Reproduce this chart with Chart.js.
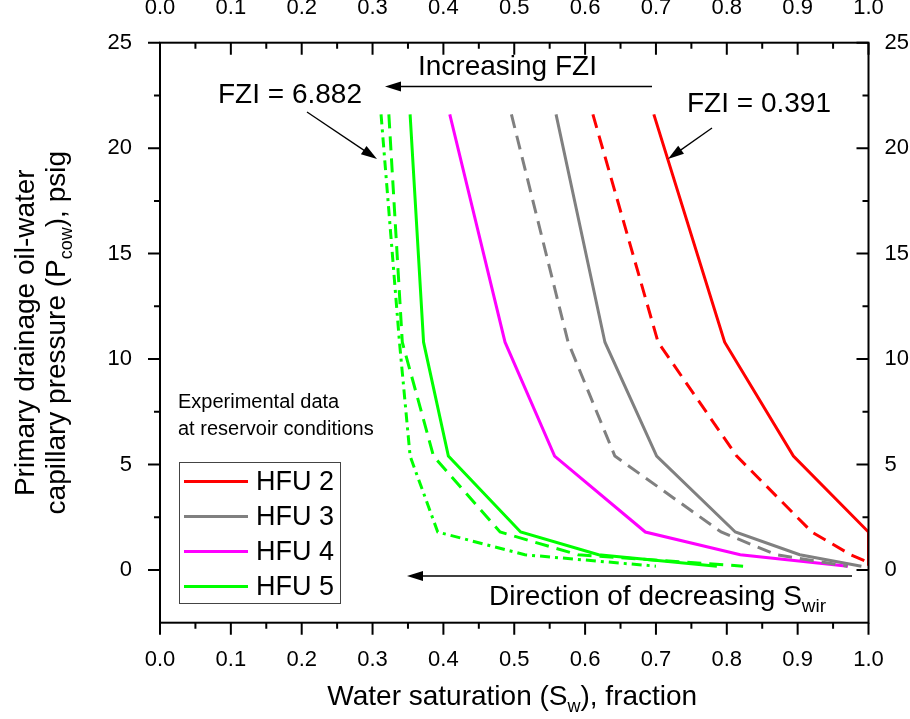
<!DOCTYPE html>
<html>
<head>
<meta charset="utf-8">
<script src="https://cdn.jsdelivr.net/npm/chart.js@4.4.1/dist/chart.umd.min.js"></script>
<style>
  html, body { margin: 0; padding: 0; background: #fff; }
  #wrap { width: 910px; height: 719px; }
</style>
</head>
<body>
<div id="wrap"><canvas id="pcChart" width="910" height="719"></canvas></div>
<script>
// tick values
const xTickValues = [0, 0.1, 0.2, 0.3, 0.4, 0.5, 0.6, 0.7, 0.8, 0.9, 1.0];
const yTickValues = [0, 5, 10, 15, 20, 25];

// Pc levels (psig) at which Sw was read
const pcLevels = [21.6, 10.8, 5.4, 1.8, 0.72, 0.18];
const pcHfu2 = [21.6, 10.8, 5.4, 1.8, 0.2];
const pcHfu2Dash = [21.6, 10.8, 5.4, 1.8, 0.72, 0.36];

// water saturation per curve
const swHfu2 = [0.697, 0.797, 0.894, 1.0, 1.0];
const swHfu2Dash = [0.611, 0.703, 0.814, 0.92, 0.975, 1.0];
const swHfu3 = [0.559, 0.628, 0.701, 0.812, 0.903, 0.99];
const swHfu3Dash = [0.496, 0.576, 0.642, 0.792, 0.87, 0.97];
const swHfu4 = [0.409, 0.487, 0.557, 0.685, 0.819, 0.971];
const swHfu5 = [0.353, 0.372, 0.407, 0.509, 0.619, 0.786];
const swHfu5Dash = [0.323, 0.342, 0.386, 0.48, 0.59, 0.823];
const swHfu5DashDot = [0.312, 0.338, 0.353, 0.392, 0.515, 0.70];

const legendNames = ['HFU 2', 'HFU 3', 'HFU 4', 'HFU 5'];
const legendColors = ['#ff0000', '#808080', '#ff00ff', '#00ff00'];

const FONT = '"Liberation Sans", Arial, sans-serif';

function pts(sw, pc) {
    return sw.map((v, i) => ({ x: v, y: pc[i] }));
}

function curve(sw, pc, color, dash) {
    return {
        data: pts(sw, pc),
        borderColor: color,
        borderWidth: 3,
        borderDash: dash || [],
        showLine: true,
        pointRadius: 0,
        fill: false,
        tension: 0
    };
}

const datasets = [
    curve(swHfu2, pcHfu2, legendColors[0]),
    curve(swHfu2Dash, pcHfu2Dash, legendColors[0], [14, 8]),
    curve(swHfu3, pcLevels, legendColors[1]),
    curve(swHfu3Dash, pcLevels, legendColors[1], [14, 8]),
    curve(swHfu4, pcLevels, legendColors[2]),
    curve(swHfu5, pcLevels, legendColors[3]),
    curve(swHfu5Dash, pcLevels, legendColors[3], [14, 8]),
    curve(swHfu5DashDot, pcLevels, legendColors[3], [10, 5, 3, 5])
];

function arrow(ctx, x1, y1, x2, y2) {
    const a = Math.atan2(y2 - y1, x2 - x1);
    const len = 16, hw = 5;
    ctx.save();
    ctx.strokeStyle = '#000';
    ctx.fillStyle = '#000';
    ctx.lineWidth = 1.3;
    ctx.beginPath();
    ctx.moveTo(x1, y1);
    ctx.lineTo(x2 - Math.cos(a) * len * 0.8, y2 - Math.sin(a) * len * 0.8);
    ctx.stroke();
    ctx.beginPath();
    ctx.moveTo(x2, y2);
    ctx.lineTo(x2 - Math.cos(a) * len - Math.sin(a) * hw, y2 - Math.sin(a) * len + Math.cos(a) * hw);
    ctx.lineTo(x2 - Math.cos(a) * len + Math.sin(a) * hw, y2 - Math.sin(a) * len - Math.cos(a) * hw);
    ctx.closePath();
    ctx.fill();
    ctx.restore();
}

// text with one subscript part: [main, sub, rest]
function subText(ctx, parts, x, y, size, subSize, align) {
    ctx.font = size + 'px ' + FONT;
    const w1 = ctx.measureText(parts[0]).width;
    const w3 = ctx.measureText(parts[2]).width;
    ctx.font = subSize + 'px ' + FONT;
    const w2 = ctx.measureText(parts[1]).width;
    const total = w1 + w2 + w3;
    let sx = x;
    if (align === 'center') sx = x - total / 2;
    ctx.textAlign = 'left';
    ctx.textBaseline = 'alphabetic';
    ctx.font = size + 'px ' + FONT;
    ctx.fillText(parts[0], sx, y);
    ctx.font = subSize + 'px ' + FONT;
    ctx.fillText(parts[1], sx + w1, y + size * 0.25);
    ctx.font = size + 'px ' + FONT;
    ctx.fillText(parts[2], sx + w1 + w2, y);
}

const decorPlugin = {
    id: 'decor',
    afterDraw(chart) {
        const ctx = chart.ctx;
        const a = chart.chartArea;
        const xs = chart.scales.x, ys = chart.scales.y;
        ctx.save();

        // frame
        ctx.strokeStyle = '#000';
        ctx.lineWidth = 2;
        ctx.strokeRect(a.left, a.top, a.right - a.left, a.bottom - a.top);

        // ticks: bottom/left outward, top/right inward
        ctx.beginPath();
        for (let i = 0; i <= 20; i++) {
            const v = i * 0.05;
            const px = xs.getPixelForValue(v);
            const L = i % 2 === 0 ? 12 : 6;
            ctx.moveTo(px, a.bottom); ctx.lineTo(px, a.bottom + L);
            ctx.moveTo(px, a.top); ctx.lineTo(px, a.top + L);
        }
        for (let i = 0; i <= 10; i++) {
            const v = i * 2.5;
            const py = ys.getPixelForValue(v);
            const L = i % 2 === 0 ? 12 : 6;
            ctx.moveTo(a.left, py); ctx.lineTo(a.left - L, py);
            ctx.moveTo(a.right, py); ctx.lineTo(a.right - L, py);
        }
        ctx.stroke();

        // annotations
        ctx.fillStyle = '#000';
        ctx.textAlign = 'left';
        ctx.textBaseline = 'alphabetic';
        ctx.font = '28px ' + FONT;
        ctx.fillText('Increasing FZI', 418, 75);
        arrow(ctx, 652, 86.5, 385, 86.5);
        ctx.fillText('FZI = 6.882', 218, 103);
        arrow(ctx, 307, 112, 377, 159);
        ctx.fillText('FZI = 0.391', 687, 112);
        arrow(ctx, 712, 128, 668, 159);

        ctx.font = '20px ' + FONT;
        ctx.fillText('Experimental data', 178, 408);
        ctx.fillText('at reservoir conditions', 178, 435);

        arrow(ctx, 852, 576, 407, 576);
        ctx.fillStyle = '#000';
        subText(ctx, ['Direction of decreasing S', 'wir', ''], 489, 605, 28, 19, 'left');

        // legend
        ctx.strokeStyle = '#444';
        ctx.lineWidth = 1;
        ctx.strokeRect(179.5, 462.5, 161, 141);
        legendNames.forEach((name, i) => {
            const ly = 481.5 + i * 35;
            ctx.strokeStyle = legendColors[i];
            ctx.lineWidth = 3;
            ctx.beginPath();
            ctx.moveTo(184, ly); ctx.lineTo(248, ly);
            ctx.stroke();
            ctx.fillStyle = '#000';
            ctx.font = '27px ' + FONT;
            ctx.textBaseline = 'middle';
            ctx.fillText(name, 256, ly + 1);
        });

        // axis titles
        ctx.fillStyle = '#000';
        subText(ctx, ['Water saturation (S', 'w', '), fraction'], (a.left + a.right) / 2 - 2, 705, 28, 18, 'center');

        ctx.save();
        ctx.translate(34, (a.top + a.bottom) / 2);
        ctx.rotate(-Math.PI / 2);
        ctx.font = '28px ' + FONT;
        ctx.textAlign = 'center';
        ctx.textBaseline = 'alphabetic';
        ctx.fillText('Primary drainage oil-water', 0, 0);
        ctx.restore();

        ctx.save();
        ctx.translate(65, (a.top + a.bottom) / 2);
        ctx.rotate(-Math.PI / 2);
        subText(ctx, ['capillary pressure (P', 'cow', '), psig'], 0, 0, 28, 18, 'center');
        ctx.restore();

        ctx.restore();
    }
};

function axisTicks(values) {
    return function (scale) {
        scale.ticks = values.map(v => ({ value: v }));
    };
}

const tickFont = { family: FONT, size: 22 };

const config = {
    type: 'scatter',
    data: { datasets: datasets },
    options: {
        responsive: false,
        animation: false,
        layout: { padding: 0 },
        plugins: {
            legend: { display: false },
            tooltip: { enabled: false }
        },
        scales: {
            x: {
                type: 'linear', position: 'bottom', min: 0, max: 1,
                afterBuildTicks: axisTicks(xTickValues),
                afterFit: s => { s.height = 96.3; },
                grid: { display: false },
                border: { display: false },
                ticks: { font: tickFont, color: '#000', padding: 16, maxRotation: 0,
                         callback: v => v.toFixed(1) }
            },
            x2: {
                type: 'linear', position: 'top', min: 0, max: 1,
                afterBuildTicks: axisTicks(xTickValues),
                afterFit: s => { s.height = 42.7; },
                grid: { display: false },
                border: { display: false },
                ticks: { font: tickFont, color: '#000', padding: 14, maxRotation: 0,
                         callback: v => v.toFixed(1) }
            },
            y: {
                type: 'linear', position: 'left', min: -2.5, max: 25,
                afterBuildTicks: axisTicks(yTickValues),
                afterFit: s => { s.width = 160; },
                grid: { display: false },
                border: { display: false },
                ticks: { font: tickFont, color: '#000', padding: 20 }
            },
            y2: {
                type: 'linear', position: 'right', min: -2.5, max: 25,
                afterBuildTicks: axisTicks(yTickValues),
                afterFit: s => { s.width = 41.5; },
                grid: { display: false },
                border: { display: false },
                ticks: { font: tickFont, color: '#000', padding: 8 }
            }
        }
    },
    plugins: [decorPlugin]
};

const pcChart = new Chart(document.getElementById('pcChart'), config);
</script>
</body>
</html>
